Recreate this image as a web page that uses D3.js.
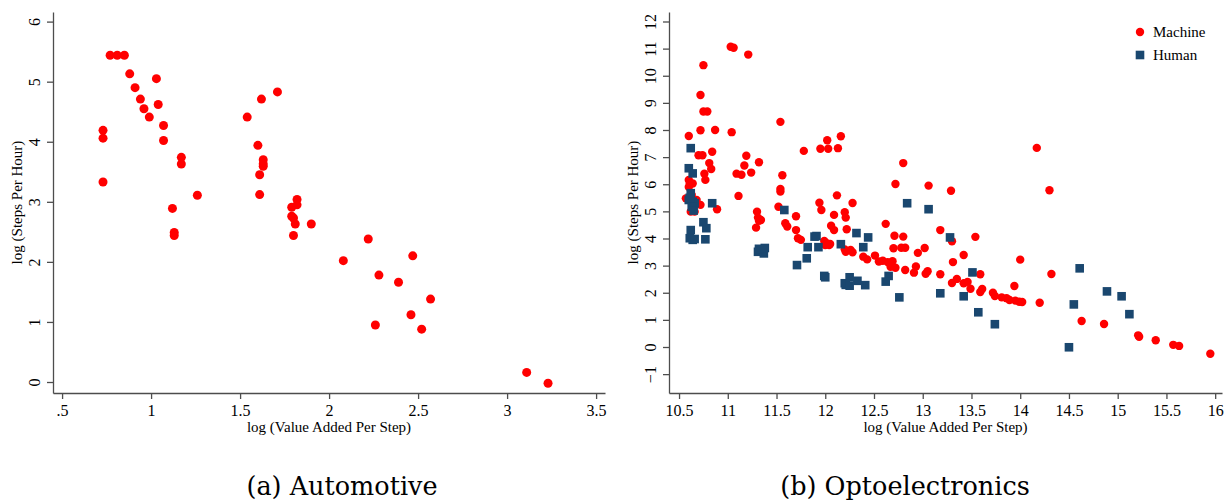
<!DOCTYPE html>
<html>
<head>
<meta charset="utf-8">
<script src="https://cdn.jsdelivr.net/npm/d3@7"></script>
<style>
  body { margin: 0; background: #fff; }
  svg text { font-family: "Liberation Serif", "Times New Roman", serif; fill: #000; }
</style>
</head>
<body>
<svg id="chart" width="1225" height="500"></svg>
<script>
// (a) Automotive
var autoX = [0.77, 0.81, 0.85, 0.88, 0.91, 0.94, 0.96, 0.99, 1.03, 1.04, 1.07, 1.07, 0.73, 0.73, 0.73,
  1.17, 1.17, 1.26, 1.12, 1.13, 1.13, 1.54, 1.62, 1.71, 1.60, 1.63, 1.63, 1.63, 1.61, 1.61,
  1.79, 1.82, 1.82, 1.79, 1.80, 1.81, 1.80, 1.90, 2.08, 2.22, 2.28, 2.39, 2.47, 2.57, 2.46,
  2.26, 2.52, 3.11, 3.23];
var autoY = [5.44, 5.44, 5.44, 5.13, 4.90, 4.71, 4.55, 4.41, 5.05, 4.62, 4.27, 4.02, 4.19, 4.06, 3.33,
  3.74, 3.63, 3.11, 2.89, 2.49, 2.44, 4.41, 4.71, 4.83, 3.94, 3.70, 3.63, 3.59, 3.45, 3.12,
  2.91, 3.04, 2.95, 2.76, 2.73, 2.63, 2.44, 2.63, 2.02, 2.38, 1.78, 1.66, 2.10, 1.38, 1.12,
  0.95, 0.88, 0.16, -0.02];

// (b) Optoelectronics - machine steps
var machineX = [10.60, 11.03, 11.06, 11.21, 10.75, 10.72, 10.75, 10.79, 10.72, 10.87, 11.04, 11.54,
  10.70, 10.74, 10.84, 10.81, 10.83, 10.76, 10.77, 11.19, 11.32, 11.17, 11.09, 11.14, 11.24,
  11.11, 11.56, 11.54, 11.54, 11.78, 11.95, 12.02, 12.03, 12.13, 12.16, 11.94, 12.12, 10.60,
  12.80, 12.72, 13.06, 13.29, 12.28, 14.17, 14.30, 14.00, 14.32, 14.02, 14.20, 14.63, 14.86,
  15.21, 15.22, 15.39, 15.57, 15.63, 15.95, 11.96, 12.09, 12.20, 12.21, 12.06, 12.09, 12.22,
  12.62, 11.99, 12.04, 12.00, 12.21, 12.26, 12.28, 12.20, 12.71, 12.80, 12.70, 12.78, 12.82,
  12.39, 12.43, 12.51, 12.55, 12.59, 12.64, 12.69, 12.67, 12.72, 12.82, 12.95, 13.02, 12.93,
  12.91, 13.03, 13.05, 13.18, 13.30, 13.54, 13.31, 13.42, 13.18, 13.30, 13.35, 13.42, 13.46,
  13.49, 13.59, 13.59, 13.61, 13.72, 13.74, 13.81, 13.86, 13.89, 13.95, 13.99, 13.94, 10.57,
  10.62, 10.66, 10.72, 10.89, 11.30, 11.31, 11.29, 11.32, 11.34, 11.52, 11.59, 11.61, 11.70,
  11.70, 11.72, 11.75, 12.02, 12.05, 10.61, 10.64, 10.68, 10.60, 10.63];
var machineY = [7.78, 11.07, 11.03, 10.78, 10.39, 9.29, 8.68, 8.68, 7.99, 8.00, 7.92, 8.30,
  7.07, 7.07, 7.20, 6.78, 6.56, 6.39, 6.16, 7.05, 6.81, 6.69, 6.39, 6.35, 6.43,
  5.57, 6.33, 5.83, 5.73, 7.23, 7.31, 7.62, 7.31, 7.33, 7.77, 5.32, 5.59, 6.16,
  6.78, 6.01, 5.95, 5.76, 5.31, 7.34, 5.78, 3.22, 2.69, 1.66, 1.63, 0.96, 0.85,
  0.43, 0.38, 0.25, 0.08, 0.04, -0.25, 5.05, 4.87, 4.97, 4.77, 4.47, 4.31, 4.34,
  4.54, 3.91, 3.76, 3.76, 3.51, 3.58, 3.49, 3.60, 4.10, 4.07, 3.64, 3.66, 3.66,
  3.33, 3.23, 3.37, 3.15, 3.18, 3.13, 3.16, 2.96, 2.92, 2.84, 3.47, 3.65, 2.97,
  2.74, 2.70, 2.79, 4.31, 3.90, 4.06, 3.13, 3.39, 2.68, 2.36, 2.51, 2.35, 2.40,
  2.15, 2.68, 2.03, 2.14, 2.00, 1.88, 1.83, 1.80, 1.73, 1.71, 1.67, 2.25, 5.48,
  4.99, 4.99, 5.24, 5.08, 4.99, 4.77, 4.40, 4.65, 4.68, 5.17, 4.56, 4.44, 4.82,
  4.31, 4.01, 3.95, 3.82, 3.80, 6.03, 6.03, 5.42, 5.90, 5.60];

// (b) Optoelectronics - human steps
var humanX = [10.62, 10.60, 10.64, 10.62, 10.60, 10.64, 10.66, 10.63, 10.65, 10.84, 10.75, 10.78,
  10.62, 10.61, 10.64, 10.77, 11.31, 11.36, 11.37, 11.32, 11.38, 11.58, 11.71, 11.82, 11.81,
  11.89, 11.91, 11.93, 11.99, 12.00, 12.16, 12.20, 12.84, 13.06, 12.32, 12.44, 12.39, 13.28,
  12.25, 12.21, 12.25, 12.33, 12.41, 12.65, 12.62, 12.76, 13.18, 13.51, 13.42, 13.57, 13.74,
  14.61, 14.89, 15.04, 14.55, 15.12, 14.50, 10.66, 10.61];
var humanY = [7.33, 6.59, 6.40, 5.67, 5.42, 5.36, 5.30, 5.17, 5.03, 5.30, 4.60, 4.38,
  4.31, 4.01, 3.95, 3.97, 3.51, 3.58, 3.45, 3.62, 3.65, 5.05, 3.02, 3.68, 3.27,
  4.07, 4.09, 3.68, 2.62, 2.57, 3.79, 2.35, 5.30, 5.08, 4.20, 4.04, 3.68, 4.04,
  2.57, 2.29, 2.26, 2.44, 2.28, 2.62, 2.41, 1.83, 1.98, 2.75, 1.87, 1.28, 0.84,
  2.90, 2.05, 1.87, 1.57, 1.21, -0.01, 3.98, 5.50];

var autoXTicks = [0.5, 1, 1.5, 2, 2.5, 3, 3.5];
var autoXTickLabels = [".5", "1", "1.5", "2", "2.5", "3", "3.5"];
var autoYTicks = [0, 1, 2, 3, 4, 5, 6];
var optoXTicks = [10.5, 11, 11.5, 12, 12.5, 13, 13.5, 14, 14.5, 15, 15.5, 16];
var optoYTicks = [-1, 0, 1, 2, 3, 4, 5, 6, 7, 8, 9, 10, 11, 12];

var red = "#ff0000";
var navy = "#1a476f";
var axisColor = "#4d4d4d";

var svg = d3.select("#chart");

// Draws the two axes of one panel, Stata style (rotated y labels)
function drawAxes(x, y, xTicks, xFormat, yTicks, xTitle, yTitle) {
  var gx = svg.append("g")
    .attr("transform", "translate(0," + y.range()[0] + ")")
    .call(d3.axisBottom(x).tickValues(xTicks).tickFormat(xFormat).tickSize(6).tickSizeOuter(0));
  gx.selectAll("text").style("font-size", "16px").attr("y", 22.5).attr("dy", null);

  var gy = svg.append("g")
    .attr("transform", "translate(" + x.range()[0] + ",0)")
    .call(d3.axisLeft(y).tickValues(yTicks).tickFormat(d3.format("")).tickSize(6).tickSizeOuter(0));
  gy.selectAll("text")
    .style("font-size", "16px")
    .attr("x", null).attr("dy", null)
    .attr("text-anchor", "middle")
    .attr("transform", "translate(-13.5,0) rotate(-90)");

  [gx, gy].forEach(function (g) {
    g.selectAll("path, line").attr("stroke", axisColor).attr("stroke-width", 1.3);
    g.selectAll("text").style("font-family", "Liberation Serif, serif").attr("fill", "#000");
  });

  svg.append("text")
    .attr("x", (x.range()[0] + x.range()[1]) / 2)
    .attr("y", 432)
    .attr("text-anchor", "middle")
    .style("font-size", "15px")
    .text(xTitle);

  svg.append("text")
    .attr("transform", "translate(" + (x.range()[0] - 31) + "," + ((y.range()[0] + y.range()[1]) / 2) + ") rotate(-90)")
    .attr("text-anchor", "middle")
    .style("font-size", "15px")
    .text(yTitle);
}

// Panel (a)
var xA = d3.scaleLinear().domain([0.449, 3.55]).range([53, 605]);
var yA = d3.scaleLinear().domain([-0.183, 6.16]).range([393, 12]);
drawAxes(xA, yA, autoXTicks, function (d, i) { return autoXTickLabels[i]; }, autoYTicks,
  "log (Value Added Per Step)", "log (Steps Per Hour)");

svg.append("g").selectAll("circle")
  .data(d3.range(autoX.length))
  .enter()
  .append("circle")
  .attr("cx", function (i) { return xA(autoX[i]); })
  .attr("cy", function (i) { return yA(autoY[i]); })
  .attr("r", 4.5)
  .attr("fill", red);

// Panel (b)
var xB = d3.scaleLinear().domain([10.397, 16.07]).range([669, 1222]);
var yB = d3.scaleLinear().domain([-1.696, 12.35]).range([393, 12]);
drawAxes(xB, yB, optoXTicks, d3.format(""), optoYTicks,
  "log (Value Added Per Step)", "log (Steps Per Hour)");

svg.append("g").selectAll("circle")
  .data(d3.range(machineX.length))
  .enter()
  .append("circle")
  .attr("cx", function (i) { return xB(machineX[i]); })
  .attr("cy", function (i) { return yB(machineY[i]); })
  .attr("r", 4.2)
  .attr("fill", red);

svg.append("g").selectAll("rect")
  .data(d3.range(humanX.length))
  .enter()
  .append("rect")
  .attr("x", function (i) { return xB(humanX[i]) - 4.3; })
  .attr("y", function (i) { return yB(humanY[i]) - 4.3; })
  .attr("width", 8.6)
  .attr("height", 8.6)
  .attr("fill", navy);

// Legend
var legend = svg.append("g").attr("transform", "translate(1140,32)");
legend.append("circle").attr("cx", 0).attr("cy", 0).attr("r", 4.2).attr("fill", red);
legend.append("rect").attr("x", -4.3).attr("y", 18.7).attr("width", 8.6).attr("height", 8.6).attr("fill", navy);
legend.append("text").attr("x", 13).attr("y", 5).style("font-size", "15px").text("Machine");
legend.append("text").attr("x", 13).attr("y", 28).style("font-size", "15px").text("Human");

// Captions
svg.append("text").attr("x", 342).attr("y", 495).attr("text-anchor", "middle")
  .style("font-size", "25.5px").style("font-family", "DejaVu Serif, serif").text("(a) Automotive");
svg.append("text").attr("x", 905).attr("y", 495).attr("text-anchor", "middle")
  .style("font-size", "25.5px").style("font-family", "DejaVu Serif, serif").text("(b) Optoelectronics");
</script>
</body>
</html>
